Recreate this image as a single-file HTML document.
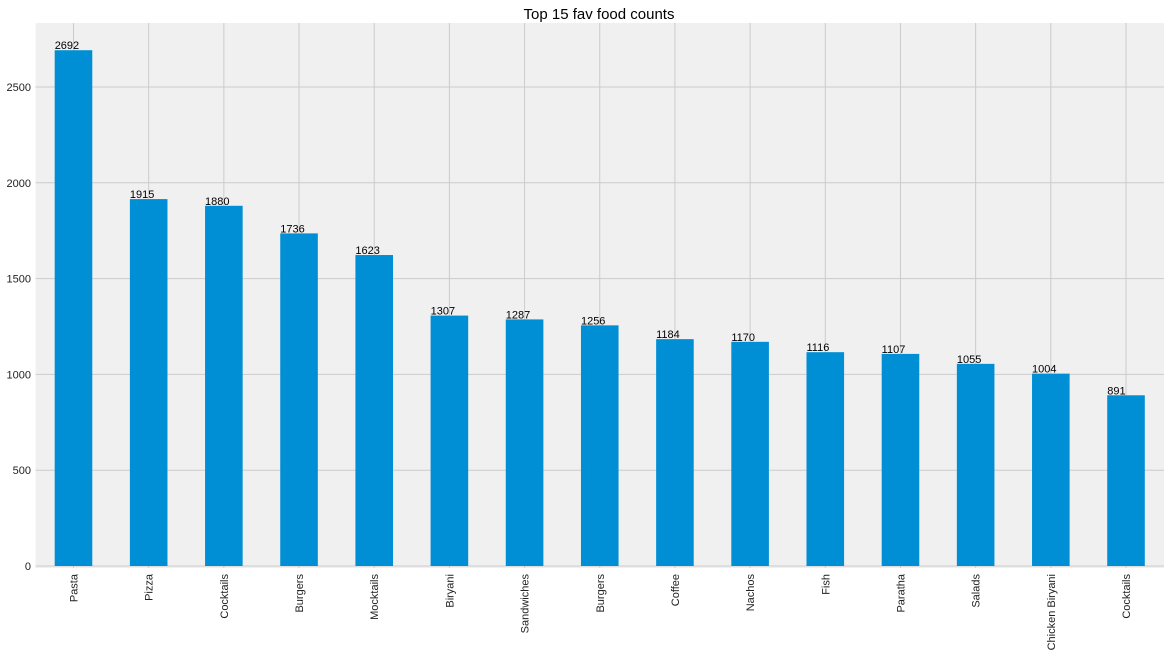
<!DOCTYPE html>
<html><head><meta charset="utf-8"><style>
body{margin:0;background:#fff;}
svg text{font-family:"Liberation Sans","DejaVu Sans",sans-serif;}
</style></head><body>
<svg id="chart" width="1170" height="659" xmlns="http://www.w3.org/2000/svg">
<rect x="35.5" y="23" width="1128.5" height="545" fill="#f0f0f0"/>
<text x="599" y="19" text-anchor="middle" font-size="15" fill="#000">Top 15 fav food counts</text>
<g id="grid"></g><g id="bars"></g><g id="labels"></g>
</svg>
<script>
const categories=["Pasta","Pizza","Cocktails","Burgers","Mocktails","Biryani","Sandwiches","Burgers","Coffee","Nachos","Fish","Paratha","Salads","Chicken Biryani","Cocktails"];
const counts=[2692,1915,1880,1736,1623,1307,1287,1256,1184,1170,1116,1107,1055,1004,891];
const yTicks=[0,500,1000,1500,2000,2500];
const NS="http://www.w3.org/2000/svg";
const x0=35.9,step=75.18,y0=566,k=479/2500;
const xs=i=>x0+step*(i+0.5);
const ys=v=>y0-v*k;
const grid=document.getElementById('grid'),bars=document.getElementById('bars'),labels=document.getElementById('labels');
function mk(tag,attrs,parent){const e=document.createElementNS(NS,tag);for(const a in attrs)e.setAttribute(a,attrs[a]);parent.appendChild(e);return e;}
yTicks.forEach(t=>{
  const l=mk('line',{x1:35.5,x2:1164,y1:ys(t),y2:ys(t),stroke:'#cbcbcb','stroke-width':1},grid);
  
  
  const tx=mk('text',{x:31,y:ys(t)+4,'text-anchor':'end','font-size':11,fill:'#222'},grid);
  tx.textContent=t;
  
  
});
categories.forEach((c,i)=>{
  const l=mk('line',{x1:xs(i),x2:xs(i),y1:23,y2:568,stroke:'#cbcbcb','stroke-width':1},grid);
  
  
  const w=step*0.5,bx=xs(i)-w/2;
  const r=mk('rect',{x:bx,y:ys(counts[i]),width:w,height:counts[i]*k,fill:'#008fd5'},bars);
  
  
  const v=mk('text',{x:bx,y:ys(counts[i])-1,'font-size':11,fill:'#000'},labels);
  v.textContent=counts[i];
  
  
  const cx=xs(i)+4,cy=574;
  const t=mk('text',{x:cx,y:cy,'text-anchor':'end','font-size':11,fill:'#222',transform:`rotate(-90 ${cx} ${cy})`},labels);
  t.textContent=c;
  
  
});
</script>
</body></html>
